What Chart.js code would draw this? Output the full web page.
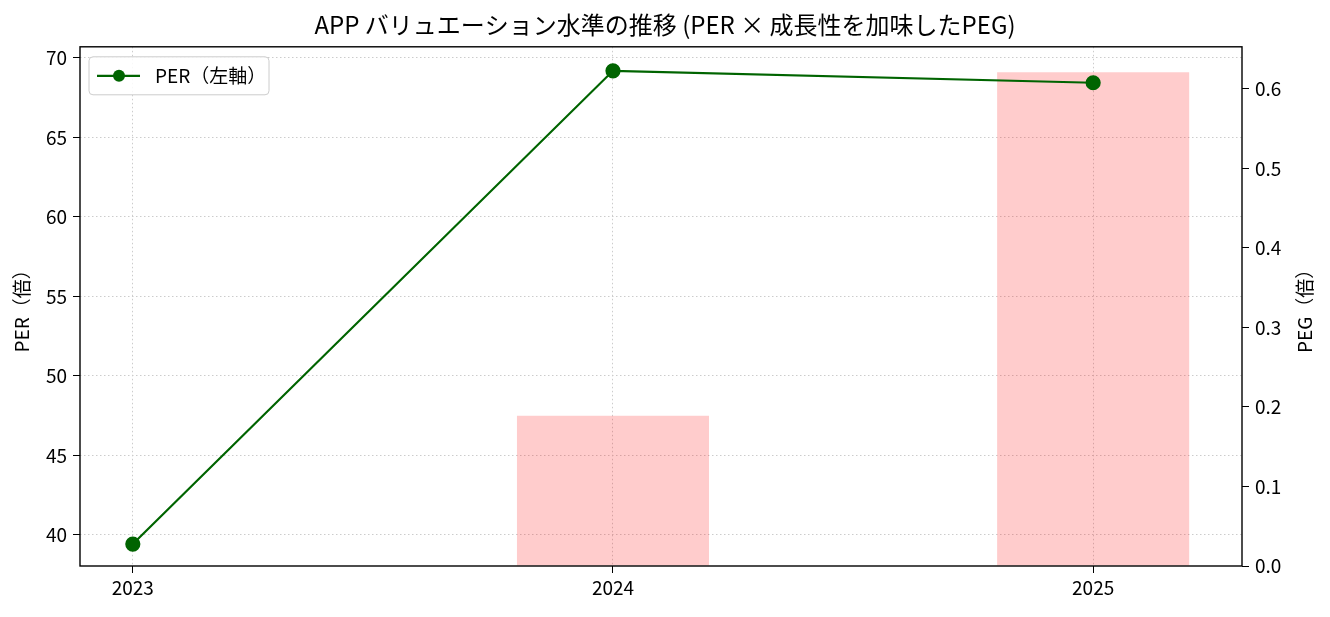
<!DOCTYPE html>
<html>
<head>
<meta charset="utf-8">
<script src="https://cdn.jsdelivr.net/npm/chart.js@4.4.1/dist/chart.umd.min.js"></script>
<style>
  html, body { margin: 0; padding: 0; background: #fff; }
  #wrap { width: 1330px; height: 617px; }
</style>
</head>
<body>
<div id="wrap"><canvas id="valChart"></canvas></div>
<script>
// data
const years = ["2023", "2024", "2025"];
const perValues = [39.43, 69.18, 68.43];
const pegValues = [null, 0.189, 0.621];
const perTicks = [40, 45, 50, 55, 60, 65, 70];
const pegTicks = [0, 0.1, 0.2, 0.3, 0.4, 0.5, 0.6];

const FONT = "'Noto Sans CJK JP', 'Noto Sans', sans-serif";
const GRID = "#cccccc";

// matplotlib-style legend box inside the plot, full frame, right axis title
const overlay = {
  id: "overlay",
  afterDraw(chart) {
    const ctx = chart.ctx;
    const a = chart.chartArea;
    ctx.save();
    ctx.strokeStyle = "#000";
    ctx.lineWidth = 1.4;
    ctx.setLineDash([]);
    ctx.strokeRect(a.left, a.top, a.right - a.left, a.bottom - a.top);

    const x = a.left + 9, y = a.top + 10, w = 180, h = 38;
    ctx.fillStyle = "rgba(255,255,255,0.85)";
    ctx.strokeStyle = "#cccccc";
    ctx.lineWidth = 1;
    ctx.beginPath();
    ctx.roundRect(x, y, w, h, 4);
    ctx.fill();
    ctx.stroke();

    const cy = y + h / 2;
    ctx.strokeStyle = "#006400";
    ctx.lineWidth = 2.2;
    ctx.beginPath();
    ctx.moveTo(x + 8, cy);
    ctx.lineTo(x + 51, cy);
    ctx.stroke();
    ctx.fillStyle = "#006400";
    ctx.beginPath();
    ctx.arc(x + 30, cy, 6, 0, Math.PI * 2);
    ctx.fill();

    ctx.fillStyle = "#000";
    ctx.font = "19px " + FONT;
    ctx.textBaseline = "middle";
    ctx.fillText("PER（左軸）", x + 66, cy);

    // right axis title, reading bottom-to-top like the left one
    ctx.translate(1305, (a.top + a.bottom) / 2);
    ctx.rotate(-Math.PI / 2);
    ctx.textAlign = "center";
    ctx.fillText("PEG（倍）", 0, 0);
    ctx.restore();
  }
};

const ctx = document.getElementById("valChart");
new Chart(ctx, {
  data: {
    datasets: [
      {
        type: "line",
        label: "PER（左軸）",
        data: perValues.map((v, i) => ({ x: i, y: v })),
        yAxisID: "y",
        borderColor: "#006400",
        backgroundColor: "#006400",
        borderWidth: 2.2,
        pointRadius: 6.5,
        pointHoverRadius: 6.5,
        tension: 0,
        order: 0,
      },
      {
        type: "bar",
        label: "PEG",
        data: pegValues.map((v, i) => ({ x: i, y: v })),
        yAxisID: "y1",
        backgroundColor: "rgba(255,0,0,0.2)",
        categoryPercentage: 0.4,
        barPercentage: 1,
        order: 1,
      },
    ],
  },
  options: {
    responsive: true,
    maintainAspectRatio: false,
    animation: false,
    layout: { padding: 0 },
    plugins: {
      legend: { display: false },
      tooltip: { enabled: false },
      title: {
        display: true,
        text: "APP バリュエーション水準の推移 (PER × 成長性を加味したPEG)",
        color: "#000",
        font: { family: FONT, size: 24, weight: "normal" },
        padding: { top: 10, bottom: 8 },
      },
    },
    scales: {
      x: {
        type: "linear",
        offset: false,
        min: -0.11,
        max: 2.31,
        afterBuildTicks: (s) => { s.ticks = years.map((_, i) => ({ value: i })); },
        afterFit: (s) => { s.height = 51; },
        ticks: {
          callback: (v) => years[v],
          color: "#000",
          font: { family: FONT, size: 19 },
          padding: 3,
          maxRotation: 0,
        },
        grid: { offset: false, color: GRID, lineWidth: 1, tickLength: 7, tickColor: "#000", tickBorderDash: [] },
        border: { display: false, dash: [1.5, 2.5] },
      },
      y: {
        type: "linear",
        position: "left",
        min: 38.05,
        max: 70.69,
        afterBuildTicks: (s) => { s.ticks = perTicks.map((v) => ({ value: v })); },
        afterFit: (s) => { s.width = 80; },
        ticks: { color: "#000", font: { family: FONT, size: 19 }, padding: 6 },
        title: { display: true, text: "PER（倍）", color: "#000", font: { family: FONT, size: 19 }, padding: { top: 10, bottom: 0 } },
        grid: { color: GRID, lineWidth: 1, tickLength: 7, tickColor: "#000", tickBorderDash: [] },
        border: { display: false, dash: [1.5, 2.5] },
      },
      y1: {
        type: "linear",
        position: "right",
        min: 0,
        max: 0.653,
        afterBuildTicks: (s) => { s.ticks = pegTicks.map((v) => ({ value: v })); },
        afterFit: (s) => { s.width = 88; },
        ticks: {
          callback: (v) => v.toFixed(1),
          color: "#000",
          font: { family: FONT, size: 19 },
          padding: 6,
        },
        grid: { drawOnChartArea: false, tickLength: 7, tickColor: "#000" },
        border: { display: false },
      },
    },
  },
  plugins: [overlay],
});
</script>
</body>
</html>
